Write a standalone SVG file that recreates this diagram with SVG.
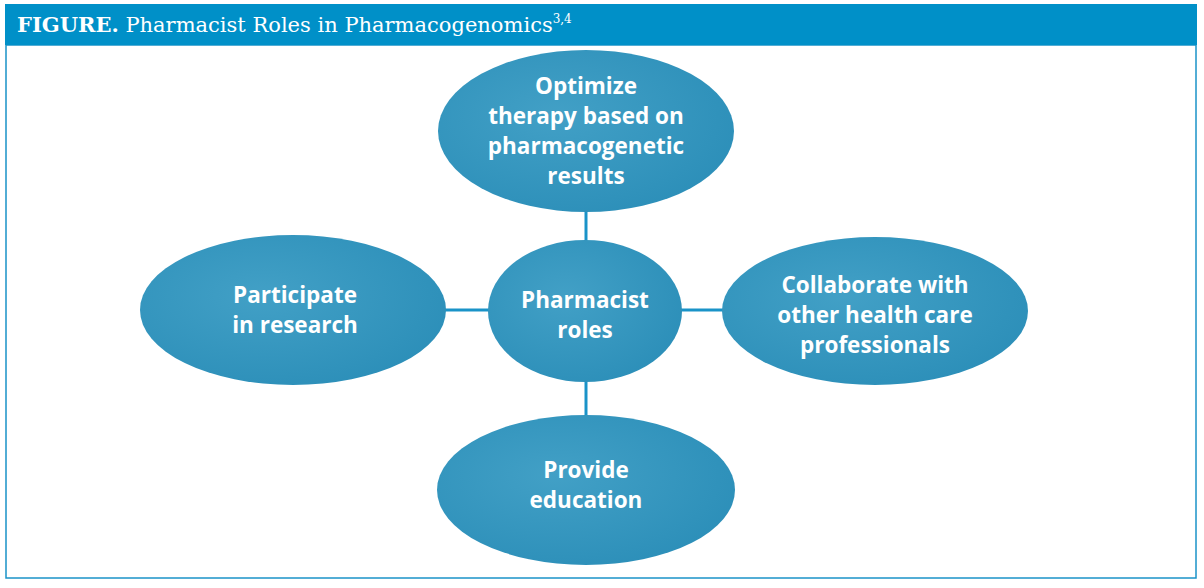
<svg xmlns="http://www.w3.org/2000/svg" width="1204" height="588" viewBox="0 0 1204 588">
<defs>
<radialGradient id="g" cx="0.4" cy="0.4" r="0.7">
<stop offset="0" stop-color="#42a0c6"/>
<stop offset="1" stop-color="#2b8eb8"/>
</radialGradient>
<style>
.node ellipse{fill:url(#g);}
.node text{font-family:"Open Sans","Noto Sans",sans-serif;font-weight:bold;font-size:22.5px;fill:#fff;text-anchor:middle;}
.conn line{stroke:#1a93c8;stroke-width:3;}
.hdr{font-family:"DejaVu Serif",serif;font-size:21px;fill:#fff;}
</style>
</defs>
<rect x="0" y="0" width="1204" height="588" fill="#fff"/>
<rect x="6" y="45" width="1190" height="533" fill="none" stroke="#1a93c8" stroke-width="1.5"/>
<rect x="5" y="4" width="1192" height="41" fill="#0090c8"/>
<text class="hdr" x="17" y="32"><tspan font-weight="bold">FIGURE.</tspan> Pharmacist Roles in Pharmacogenomics<tspan font-size="12" dy="-9">3,4</tspan></text>
<g class="conn">
<line x1="586" y1="210" x2="586" y2="242"/>
<line x1="443" y1="310" x2="490" y2="310"/>
<line x1="681" y1="310" x2="724" y2="310"/>
<line x1="586" y1="380" x2="586" y2="417"/>
</g>
<g id="top" class="node">
<ellipse cx="586" cy="131" rx="148" ry="81"/>
<text x="586" y="94">Optimize</text>
<text x="586" y="124">therapy based on</text>
<text x="586" y="154">pharmacogenetic</text>
<text x="586" y="184">results</text>
</g>
<g id="left" class="node">
<ellipse cx="293" cy="310" rx="153" ry="75"/>
<text x="295" y="303">Participate</text>
<text x="295" y="333">in research</text>
</g>
<g id="center" class="node">
<ellipse cx="585" cy="311" rx="97" ry="71"/>
<text x="585" y="308">Pharmacist</text>
<text x="585" y="338">roles</text>
</g>
<g id="right" class="node">
<ellipse cx="875" cy="311" rx="153" ry="74"/>
<text x="875" y="293">Collaborate with</text>
<text x="875" y="323">other health care</text>
<text x="875" y="353">professionals</text>
</g>
<g id="bottom" class="node">
<ellipse cx="586" cy="490" rx="149" ry="75"/>
<text x="586" y="478">Provide</text>
<text x="586" y="508">education</text>
</g>
</svg>
